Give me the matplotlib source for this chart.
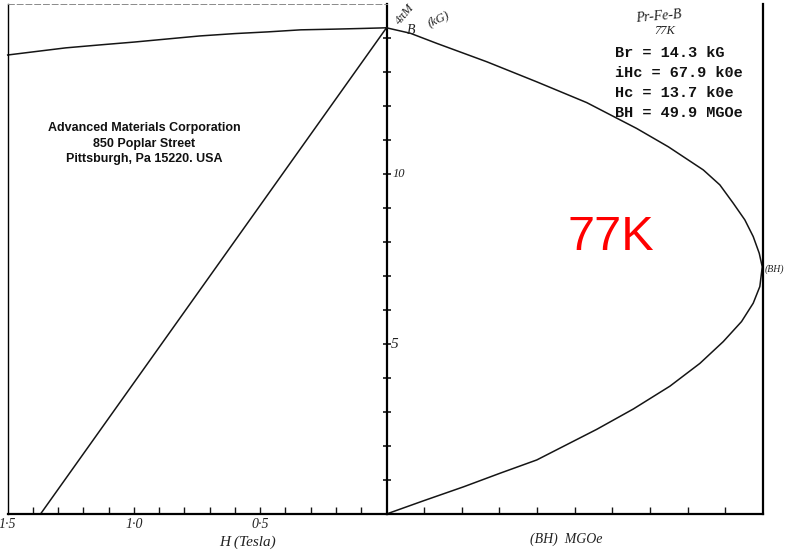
import numpy as np
import matplotlib.pyplot as plt

W, HT = 786, 550

# intrinsic (4piM) curve: H in tesla, B in kG
h_j = [1.5, 1.38, 1.27, 1.13, 1.0, 0.87, 0.74, 0.6, 0.47, 0.34, 0.21, 0.1, 0.0]
b_j = [13.5, 13.61, 13.71, 13.8, 13.88, 13.97, 14.06, 14.13, 14.18, 14.24,
       14.26, 14.28, 14.3]

# normal B curve, straight from Br down to Hc
br = 14.3   # kG
hc = 13.7   # kOe
h_b = [0.0, hc / 10.0]
b_b = [br, 0.0]

# energy product vs B
bh = [0, 3.16, 6.70, 13.33, 19.96, 26.59, 33.22, 37.43, 42.07, 44.27, 46.05,
      47.59, 48.70, 49.50, 49.9, 49.58, 48.70, 47.15, 44.72, 41.62, 37.64,
      32.79, 27.92, 19.96, 15.09, 10.24, 4.93, 0]
b_bh = [14.3, 14.14, 13.84, 13.30, 12.71, 12.10, 11.34, 10.80, 10.12, 9.68,
        9.14, 8.65, 8.16, 7.67, 7.27, 6.69, 6.20, 5.66, 5.07, 4.43, 3.76,
        3.09, 2.49, 1.59, 1.20, 0.80, 0.39, 0]

h_ticks = [0.1 * i for i in range(1, 15)]
h_labels = [(1.5, "1·5"), (1.0, "1·0"), (0.5, "0·5")]
b_ticks = list(range(1, 15))
bh_ticks = [5, 10, 15, 20, 25, 30, 35, 40, 45]

params = ["Br = 14.3 kG", "iHc = 67.9 k0e", "Hc = 13.7 k0e", "BH = 49.9 MGOe"]
company = ["Advanced Materials Corporation", "850 Poplar Street",
           "Pittsburgh, Pa 15220. USA"]

ink = "#151515"
hand = dict(family="Liberation Serif", style="italic", color="#222222")


def px(x, y):
    return x / W, 1 - y / HT


fig = plt.figure(figsize=(7.86, 5.5), dpi=100)
x0, xm, x1 = 7.7 / W, 386.5 / W, 763 / W
y0, y1 = 1 - 514 / HT, 1 - 4 / HT
axl = fig.add_axes([x0, y0, xm - x0, y1 - y0])
axr = fig.add_axes([xm, y0, x1 - xm, y1 - y0])

for ax in (axl, axr):
    ax.set_ylim(0, 15)
    ax.patch.set_alpha(0)
axl.set_xlim(1.5, 0)
axr.set_xlim(0, 50)

# frame
axl.spines["left"].set_linewidth(1.0)
axl.spines["bottom"].set_linewidth(1.6)
axl.spines["right"].set_linewidth(1.6)
axl.spines["top"].set_linewidth(0.7)
axl.spines["top"].set_linestyle((0, (6, 3)))
axl.spines["top"].set_color("#8a8a8a")
for s in ("left", "top"):
    axr.spines[s].set_visible(False)
axr.spines["bottom"].set_linewidth(1.6)
axr.spines["right"].set_linewidth(1.6)
for ax in (axl, axr):
    for s in ax.spines.values():
        if s.get_linestyle() == "-":
            s.set_color(ink)

axl.set_xticks(h_ticks)
axl.set_xticklabels([])
axl.tick_params(axis="x", direction="in", length=5, width=1, color=ink)
axl.yaxis.tick_right()
axl.set_yticks(b_ticks)
axl.set_yticklabels([])
axl.tick_params(axis="y", direction="inout", length=6, width=1.2, color=ink)

axr.set_xticks(bh_ticks)
axr.set_xticklabels([])
axr.tick_params(axis="x", direction="in", length=5, width=1, color=ink)
axr.set_yticks([])

# curves
axl.plot(h_j, b_j, color=ink, lw=1.1, clip_on=False)
axl.plot(h_b, b_b, color=ink, lw=1.1, clip_on=False)
axr.plot(bh, b_bh, color=ink, lw=1.1, clip_on=False)

# hand-written scale labels
for v, s in h_labels:
    axl.text(v, -0.3, s, ha="center", va="center", fontsize=10, **hand)
axr.text(0.8, 10, "10", ha="left", va="center", fontsize=9, **hand)
axr.text(0.6, 5, "5", ha="left", va="center", fontsize=11, **hand)
fig.text(*px(248, 542), "H (Tesla)", ha="center", va="center", fontsize=11, **hand)
fig.text(*px(566, 539), "(BH)  MGOe", ha="center", va="center", fontsize=10, **hand)
fig.text(*px(405, 14), "4πM", ha="center", va="center", fontsize=9, rotation=50, **hand)
fig.text(*px(411, 31), "B", ha="center", va="center", fontsize=10, **hand)
fig.text(*px(438, 19), "(kG)", ha="center", va="center", fontsize=9, rotation=25, **hand)
fig.text(*px(774, 269), "(BH)", ha="center", va="center", fontsize=7, **hand)
fig.text(*px(659, 17), "Pr-Fe-B", ha="center", va="center", fontsize=10, rotation=5, **hand)
fig.text(*px(665, 31), "77K", ha="center", va="center", fontsize=9, **hand)

# magnet parameters
for i, s in enumerate(params):
    fig.text(*px(615, 53 + 20 * i), s, ha="left", va="center", fontsize=11,
             family="Liberation Mono", weight="bold", color="#111111")

for i, s in enumerate(company):
    fig.text(*px(144, 128 + 15.5 * i), s, ha="center", va="center", fontsize=9,
             family="Liberation Sans", weight="bold", color="#111111")

fig.text(*px(611, 237), "77K", ha="center", va="center", fontsize=35,
         family="Liberation Sans", color="#ff0000")

fig.savefig("out.png", dpi=100)
